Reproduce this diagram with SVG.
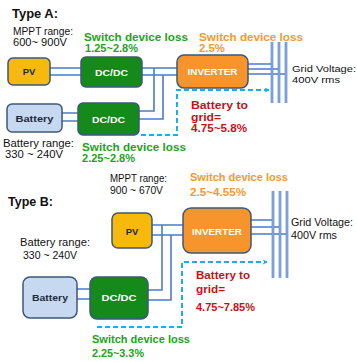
<svg xmlns="http://www.w3.org/2000/svg" width="357" height="362" viewBox="0 0 357 362">
  <defs>
    <marker id="chev" viewBox="0 0 10 10" refX="9" refY="5" markerWidth="5" markerHeight="5" orient="auto" markerUnits="userSpaceOnUse">
      <polyline points="1,1 9,5 1,9" fill="none" stroke="#1aaef0" stroke-width="2"/>
    </marker>
  </defs>
  <style>
    text { font-family: "Liberation Sans", Arial, sans-serif; }
    .title { font-size: 13px; font-weight: bold; fill: #111; }
    .note { font-size: 10.5px; fill: #111; }
    .note-s { font-size: 9.5px; fill: #111; }
    .loss-g { font-size: 11px; font-weight: bold; fill: #22a322; }
    .loss-o { font-size: 11px; font-weight: bold; fill: #f59a30; }
    .b2g { font-size: 11px; font-weight: bold; fill: #c8101a; }
    .box { stroke: #3c5878; stroke-width: 1.5; }
    .pv { fill: #f6b90c; }
    .dcdc { fill: #15891a; }
    .inv { fill: #f7942c; }
    .bat { fill: #c6d9f0; }
    .lbl-w { font-size: 9.5px; font-weight: bold; fill: #ffffff; text-anchor: middle; }
    .lbl-d { font-size: 9.5px; font-weight: bold; fill: #1e2a3a; text-anchor: middle; }
    .wire { fill: none; stroke: #4a7ccc; stroke-width: 1.6; }
    .bar { stroke: #4a7ccc; stroke-width: 2.6; }
    .bar-c { stroke: #d6e2f4; stroke-width: 0.7; }
    .flow { fill: none; stroke: #1aaef0; stroke-width: 2; stroke-dasharray: 5 3; }
  </style>

  <rect width="357" height="362" fill="#ffffff"/>

  <!-- ===== Type A ===== -->
  <text class="title" x="12" y="18" textLength="46" lengthAdjust="spacingAndGlyphs">Type A:</text>
  <text class="note" x="13" y="35" textLength="60" lengthAdjust="spacingAndGlyphs">MPPT range:</text>
  <text class="note" x="13" y="46" textLength="54" lengthAdjust="spacingAndGlyphs">600~ 900V</text>
  <text class="loss-g" x="84" y="41" textLength="104" lengthAdjust="spacingAndGlyphs">Switch device loss</text>
  <text class="loss-g" x="85" y="52" textLength="53" lengthAdjust="spacingAndGlyphs">1.25~2.8%</text>
  <text class="loss-o" x="199" y="41" textLength="104" lengthAdjust="spacingAndGlyphs">Switch device loss</text>
  <text class="loss-o" x="199" y="52" textLength="26" lengthAdjust="spacingAndGlyphs">2.5%</text>
  <text class="note-s" x="292" y="72" textLength="64" lengthAdjust="spacingAndGlyphs">Grid Voltage:</text>
  <text class="note-s" x="292" y="83" textLength="48" lengthAdjust="spacingAndGlyphs">400V rms</text>
  <text class="note" x="3" y="147" textLength="71" lengthAdjust="spacingAndGlyphs">Battery range:</text>
  <text class="note" x="5" y="158" textLength="58" lengthAdjust="spacingAndGlyphs">330 ~ 240V</text>
  <text class="loss-g" x="82" y="151" textLength="104" lengthAdjust="spacingAndGlyphs">Switch device loss</text>
  <text class="loss-g" x="82" y="162" textLength="53" lengthAdjust="spacingAndGlyphs">2.25~2.8%</text>
  <text class="b2g" x="191" y="109" textLength="57" lengthAdjust="spacingAndGlyphs">Battery to</text>
  <text class="b2g" x="191" y="121" textLength="30" lengthAdjust="spacingAndGlyphs">grid=</text>
  <text class="b2g" x="191" y="132" textLength="56" lengthAdjust="spacingAndGlyphs">4.75~5.8%</text>

  <!-- ===== Type B ===== -->
  <text class="title" x="8" y="206" textLength="45" lengthAdjust="spacingAndGlyphs">Type B:</text>
  <text class="note" x="110" y="182" textLength="57" lengthAdjust="spacingAndGlyphs">MPPT range:</text>
  <text class="note" x="110" y="194" textLength="53" lengthAdjust="spacingAndGlyphs">900 ~ 670V</text>
  <text class="loss-o" x="190" y="181" textLength="98" lengthAdjust="spacingAndGlyphs">Switch device loss</text>
  <text class="loss-o" x="190" y="196" textLength="56" lengthAdjust="spacingAndGlyphs">2.5~4.55%</text>
  <text class="note" x="291" y="226" textLength="62" lengthAdjust="spacingAndGlyphs">Grid Voltage:</text>
  <text class="note" x="291" y="239" textLength="46" lengthAdjust="spacingAndGlyphs">400V rms</text>
  <text class="note" x="20" y="246" textLength="70" lengthAdjust="spacingAndGlyphs">Battery range:</text>
  <text class="note" x="23" y="259" textLength="54" lengthAdjust="spacingAndGlyphs">330 ~ 240V</text>
  <text class="loss-g" x="92" y="343" textLength="98" lengthAdjust="spacingAndGlyphs">Switch device loss</text>
  <text class="loss-g" x="92" y="357" textLength="52" lengthAdjust="spacingAndGlyphs">2.25~3.3%</text>
  <text class="b2g" x="196" y="279" textLength="54" lengthAdjust="spacingAndGlyphs">Battery to</text>
  <text class="b2g" x="196" y="293" textLength="29" lengthAdjust="spacingAndGlyphs">grid=</text>
  <text class="b2g" x="196" y="311" textLength="59" lengthAdjust="spacingAndGlyphs">4.75~7.85%</text>

  <!-- wiring, bus bars and battery-to-grid flow -->
  <g id="connectors">
    <!-- Type A DC wiring -->
    <path class="wire" d="M50,68 H177 M50,75 H177"/>
    <path class="wire" d="M154,68 V111 H139 M163,75 V119 H139"/>
    <path class="wire" d="M62,113 H78 M62,121 H78"/>
    <!-- Type A AC side -->
    <path class="wire" d="M248,64 H272 M248,69 H279 M248,74 H286"/>
    <!-- Type B DC wiring -->
    <path class="wire" d="M152,225 H183 M152,235 H183"/>
    <path class="wire" d="M162,225 V290 H148 M171,235 V300 H148"/>
    <path class="wire" d="M77,289 H90 M77,299 H90"/>
    <!-- Type B AC side -->
    <path class="wire" d="M251,220 H273 M251,227 H280 M251,234 H287"/>
    <!-- battery-to-grid flows -->
    <path class="flow" d="M141,135 H177 V90 H269" marker-end="url(#chev)"/>
    <path class="flow" d="M97,327 H182 V262 H267" marker-end="url(#chev)"/>
  </g>

  <g id="grid-bus-a">
    <path class="bar" d="M272,42 V103 M279,42 V103 M286,42 V103"/>
    <path class="bar-c" d="M272,42 V103 M279,42 V103 M286,42 V103"/>
  </g>
  <g id="grid-bus-b">
    <path class="bar" d="M273,191 V278 M280,191 V278 M287,191 V278"/>
    <path class="bar-c" d="M273,191 V278 M280,191 V278 M287,191 V278"/>
  </g>

  <g id="pv-a">
    <rect class="box pv" x="8" y="58" width="42" height="27" rx="5"/>
    <text class="lbl-d" x="29" y="75">PV</text>
  </g>
  <g id="dcdc-a-pv">
    <rect class="box dcdc" x="81" y="57" width="61" height="30" rx="5"/>
    <text class="lbl-w" x="111.5" y="76" textLength="33" lengthAdjust="spacingAndGlyphs">DC/DC</text>
  </g>
  <g id="battery-a">
    <rect class="box bat" x="7" y="104" width="55" height="28" rx="5"/>
    <text class="lbl-d" x="34.5" y="122" textLength="38" lengthAdjust="spacingAndGlyphs">Battery</text>
  </g>
  <g id="dcdc-a-bat">
    <rect class="box dcdc" x="78" y="103" width="61" height="32" rx="5"/>
    <text class="lbl-w" x="108.5" y="123" textLength="33" lengthAdjust="spacingAndGlyphs">DC/DC</text>
  </g>
  <g id="inverter-a">
    <rect class="box inv" x="177" y="55" width="71" height="33" rx="7"/>
    <text class="lbl-w" x="212.5" y="75" textLength="50" lengthAdjust="spacingAndGlyphs">INVERTER</text>
  </g>

  <g id="pv-b">
    <rect class="box pv" x="112" y="213" width="40" height="35" rx="6"/>
    <text class="lbl-d" x="132" y="235">PV</text>
  </g>
  <g id="inverter-b">
    <rect class="box inv" x="183" y="208" width="68" height="45" rx="8"/>
    <text class="lbl-w" x="217" y="235" textLength="50" lengthAdjust="spacingAndGlyphs">INVERTER</text>
  </g>
  <g id="battery-b">
    <rect class="box bat" x="23" y="277" width="54" height="41" rx="7"/>
    <text class="lbl-d" x="50" y="301" textLength="36" lengthAdjust="spacingAndGlyphs">Battery</text>
  </g>
  <g id="dcdc-b">
    <rect class="box dcdc" x="90" y="277" width="58" height="42" rx="7"/>
    <text class="lbl-w" x="119" y="301" textLength="35" lengthAdjust="spacingAndGlyphs">DC/DC</text>
  </g>
</svg>
